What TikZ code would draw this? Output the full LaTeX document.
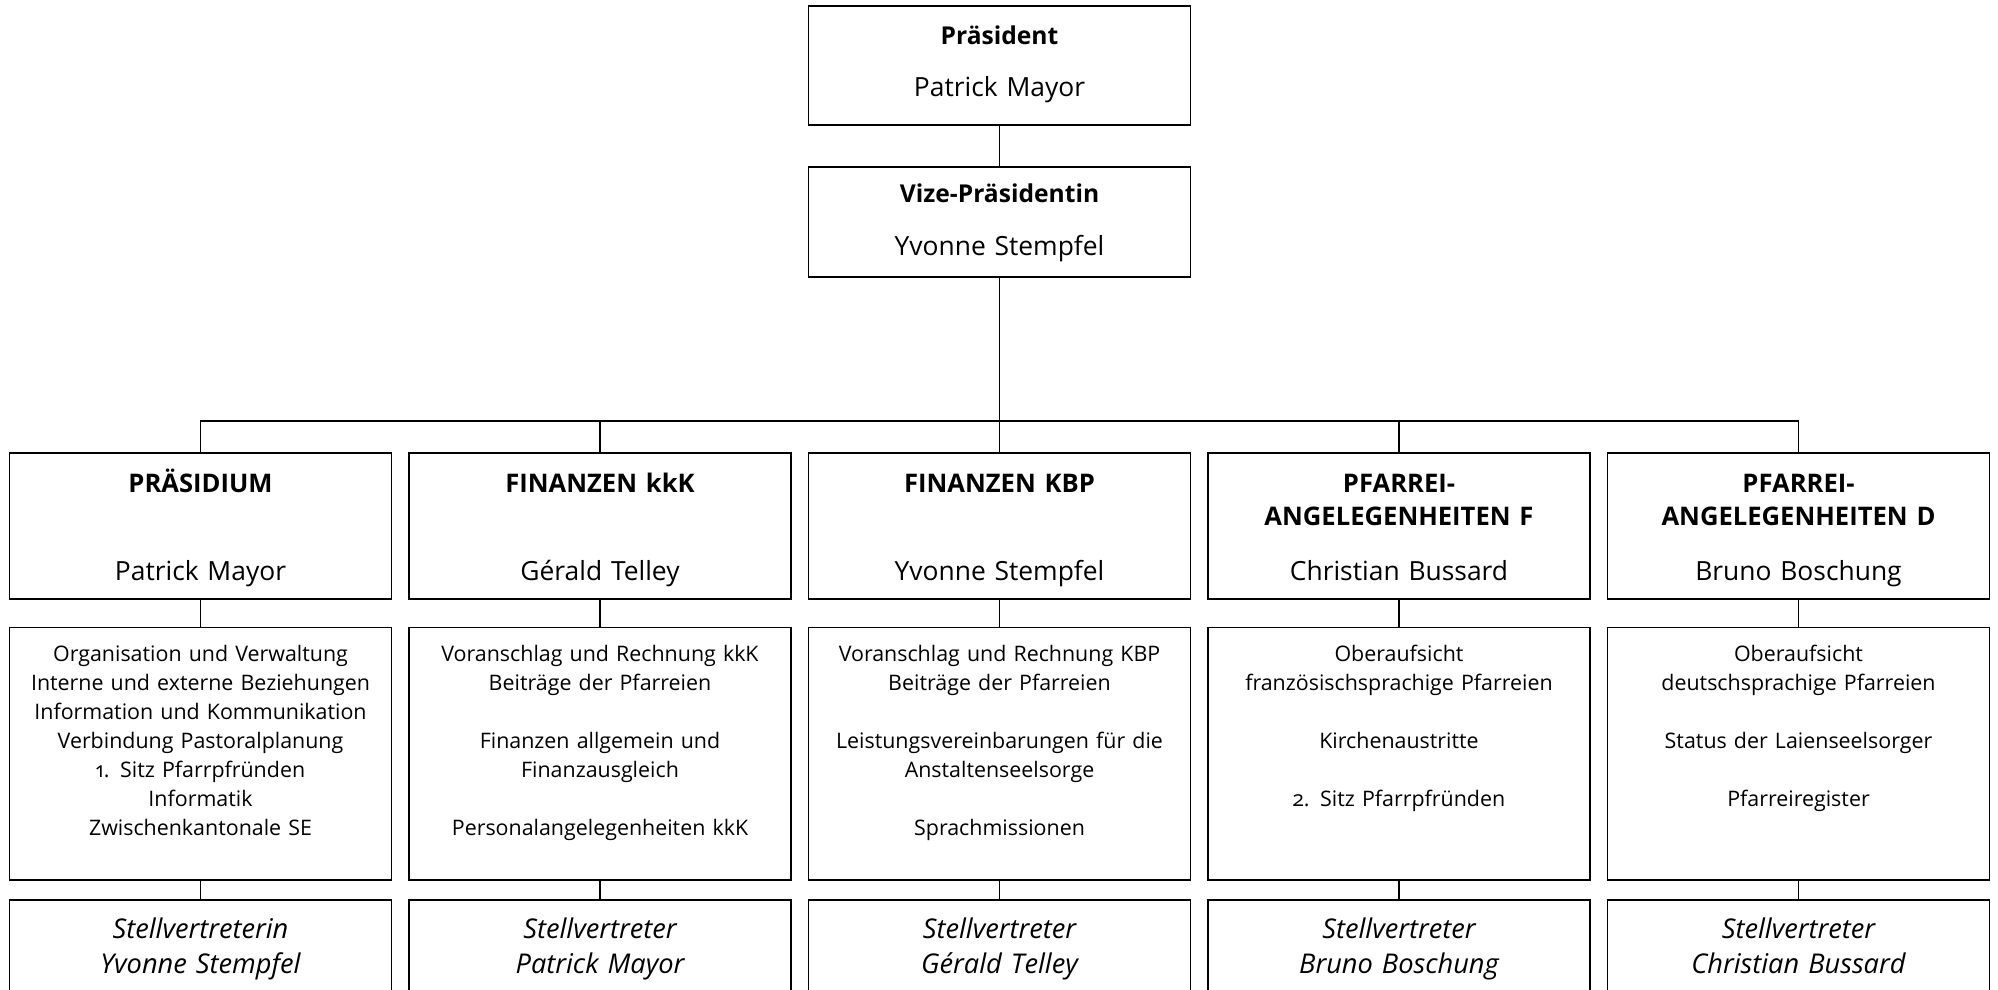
\documentclass[tikz,border=0pt]{standalone}
\usepackage{fontspec}
\setmainfont{Open Sans}[Numbers=OldStyle]
\usetikzlibrary{positioning}

\begin{document}
\begin{tikzpicture}[x=0.5pt, y=-0.5pt, node distance=8.75pt]
    \tikzset{box/.style = {draw, line width=0.9pt, rectangle, outer sep=0pt, text width=181pt, inner xsep=5pt, align=center},
             chief/.style = {box, inner ysep=6pt, text height=13.5pt, text depth=34pt, font=\fontsize{13.2}{26}\selectfont},
             head/.style = {box, inner ysep=5pt, text height=14.7pt, text depth=48.6pt, font=\fontsize{13.2}{16.5}\selectfont},
             tasks/.style = {box, inner ysep=6pt, text height=11pt, text depth=103.4pt, font=\fontsize{10.7}{14.5}\selectfont},
             deputy/.style = {box, inner ysep=6pt, text height=13.2pt, text depth=80pt, font=\itshape\fontsize{13.6}{17.5}\selectfont}}

    \useasboundingbox (0,0) rectangle (1998,990);
    \clip (0,0) rectangle (1998,990);

    % Leitung
    \node[chief, anchor=north] (pres) at (999.5,6) {\textbf{\fontsize{12.3}{26}\selectfont Präsident}\\Patrick Mayor};
    \node[chief, text height=12pt, text depth=31pt, below=21pt of pres] (vize) {\textbf{\fontsize{12.3}{26}\selectfont Vize-Präsidentin}\\Yvonne Stempfel};
    \coordinate (bus) at (999.5,420.7);

    % Ressorts
    \node[head, anchor=north] (praes) at (200.5,452.7) {\textbf{\fontsize{12.8}{16.5}\selectfont PRÄSIDIUM}\\[27.5pt]Patrick Mayor};
    \node[head, right=of praes] (fkkk) {\textbf{\fontsize{12.8}{16.5}\selectfont FINANZEN kkK}\\[27.5pt]Gérald Telley};
    \node[head, right=of fkkk] (fkbp) {\textbf{\fontsize{12.8}{16.5}\selectfont FINANZEN KBP}\\[27.5pt]Yvonne Stempfel};
    \node[head, right=of fkbp] (pfaf) {\textbf{\fontsize{12.8}{16.5}\selectfont PFARREI-}\\\textbf{\fontsize{12.8}{16.5}\selectfont ANGELEGENHEITEN F}\\[11pt]Christian Bussard};
    \node[head, right=of pfaf] (pfad) {\textbf{\fontsize{12.8}{16.5}\selectfont PFARREI-}\\\textbf{\fontsize{12.8}{16.5}\selectfont ANGELEGENHEITEN D}\\[11pt]Bruno Boschung};

    % Aufgaben
    \node[tasks, below=14.1pt of praes] (praesT) {Organisation und Verwaltung\\Interne und externe Beziehungen\\Information und Kommunikation\\Verbindung Pastoralplanung\\1. Sitz Pfarrpfründen\\Informatik\\Zwischenkantonale SE};
    \node[tasks, below=14.1pt of fkkk] (fkkkT) {Voranschlag und Rechnung kkK\\Beiträge der Pfarreien\\[\baselineskip]Finanzen allgemein und\\Finanzausgleich\\[\baselineskip]Personalangelegenheiten kkK};
    \node[tasks, below=14.1pt of fkbp] (fkbpT) {Voranschlag und Rechnung KBP\\Beiträge der Pfarreien\\[\baselineskip]Leistungsvereinbarungen für die\\Anstaltenseelsorge\\[\baselineskip]Sprachmissionen};
    \node[tasks, below=14.1pt of pfaf] (pfafT) {Oberaufsicht\\französischsprachige Pfarreien\\[\baselineskip]Kirchenaustritte\\[\baselineskip]2. Sitz Pfarrpfründen};
    \node[tasks, below=14.1pt of pfad] (pfadT) {Oberaufsicht\\deutschsprachige Pfarreien\\[\baselineskip]Status der Laienseelsorger\\[\baselineskip]Pfarreiregister};

    % Stellvertretung
    \node[deputy, below=10pt of praesT] (praesS) {Stellvertreterin\\Yvonne Stempfel};
    \node[deputy, below=10pt of fkkkT] (fkkkS) {Stellvertreter\\Patrick Mayor};
    \node[deputy, below=10pt of fkbpT] (fkbpS) {Stellvertreter\\Gérald Telley};
    \node[deputy, below=10pt of pfafT] (pfafS) {Stellvertreter\\Bruno Boschung};
    \node[deputy, below=10pt of pfadT] (pfadS) {Stellvertreter\\Christian Bussard};

    \draw[line width=0.8pt] (pres) -- (vize);
    \draw[line width=0.8pt] (vize) -- (bus);
    \draw[line width=0.8pt] (praes) |- (bus);
    \draw[line width=0.8pt] (fkkk) |- (bus);
    \draw[line width=0.8pt] (fkbp) -- (bus);
    \draw[line width=0.8pt] (pfaf) |- (bus);
    \draw[line width=0.8pt] (pfad) |- (bus);

    \draw[line width=0.8pt] (praes) -- (praesT) -- (praesS);
    \draw[line width=0.8pt] (fkkk) -- (fkkkT) -- (fkkkS);
    \draw[line width=0.8pt] (fkbp) -- (fkbpT) -- (fkbpS);
    \draw[line width=0.8pt] (pfaf) -- (pfafT) -- (pfafS);
    \draw[line width=0.8pt] (pfad) -- (pfadT) -- (pfadS);
\end{tikzpicture}
\end{document}
